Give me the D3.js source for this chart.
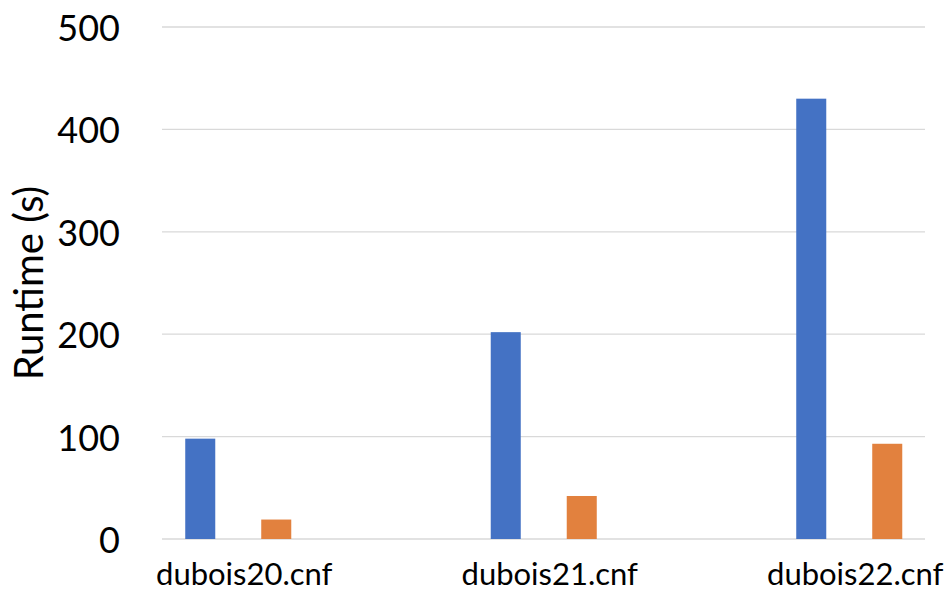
<!DOCTYPE html>
<html>
<head>
<meta charset="utf-8">
<script src="https://cdn.jsdelivr.net/npm/d3@7/dist/d3.min.js"></script>
<style>
  html, body { margin: 0; padding: 0; background: #ffffff; }
  svg { display: block; }
  text { font-family: Lato, "Open Sans", sans-serif; fill: #000; }
</style>
</head>
<body>
<svg id="chart" width="952" height="592"></svg>
<script>
// Runtime per benchmark instance, two solver configurations
const categories = ["dubois20.cnf", "dubois21.cnf", "dubois22.cnf"];
const seriesNames = ["solverA", "solverB"];
const solverA = [98, 202, 430];
const solverB = [19, 42, 93];
const yTicks = [0, 100, 200, 300, 400, 500];
const yTitle = "Runtime (s)";
const colors = ["#4472C4", "#E2813E"];

const svg = d3.select("#chart");

const gridLeft = 162, gridRight = 925;
const y = d3.scaleLinear().domain([0, 500]).range([539, 27]);

const x0 = d3.scaleBand().domain(categories).range([85.5, 1002]).padding(0);
const bw = x0.bandwidth();
const x1 = d3.scaleBand().domain(seriesNames)
  .range([bw / 2 - 76, bw / 2 + 76])
  .paddingInner(0.605).paddingOuter(0.3025);

// horizontal gridlines
svg.append("g").selectAll("line").data(yTicks).join("line")
  .attr("x1", gridLeft).attr("x2", gridRight)
  .attr("y1", d => y(d)).attr("y2", d => y(d))
  .attr("stroke", "#D9D9D9").attr("stroke-width", 1.3);

// y tick labels
svg.append("g").selectAll("text").data(yTicks).join("text")
  .attr("x", 120).attr("y", d => y(d))
  .attr("text-anchor", "end").attr("dominant-baseline", "central")
  .style("font-size", "36px")
  .text(d => d);

// y axis title
svg.append("text")
  .attr("transform", "translate(28,283) rotate(-90)")
  .attr("text-anchor", "middle").attr("dominant-baseline", "central")
  .style("font-size", "40px")
  .text(yTitle);

// bars
const rows = categories.map((c, i) => ({ cat: c, vals: [solverA[i], solverB[i]] }));
const groups = svg.append("g").selectAll("g").data(rows).join("g")
  .attr("transform", d => `translate(${x0(d.cat)},0)`);
groups.selectAll("rect")
  .data(d => d.vals.map((v, j) => ({ name: seriesNames[j], v, j })))
  .join("rect")
  .attr("x", d => x1(d.name))
  .attr("width", x1.bandwidth())
  .attr("y", d => y(d.v))
  .attr("height", d => y(0) - y(d.v))
  .attr("fill", d => colors[d.j]);

// category labels
svg.append("g").selectAll("text").data(categories).join("text")
  .attr("x", d => x0(d) + bw / 2 + 6)
  .attr("y", 585)
  .attr("text-anchor", "middle")
  .style("font-size", "31px")
  .text(d => d);
</script>
</body>
</html>
